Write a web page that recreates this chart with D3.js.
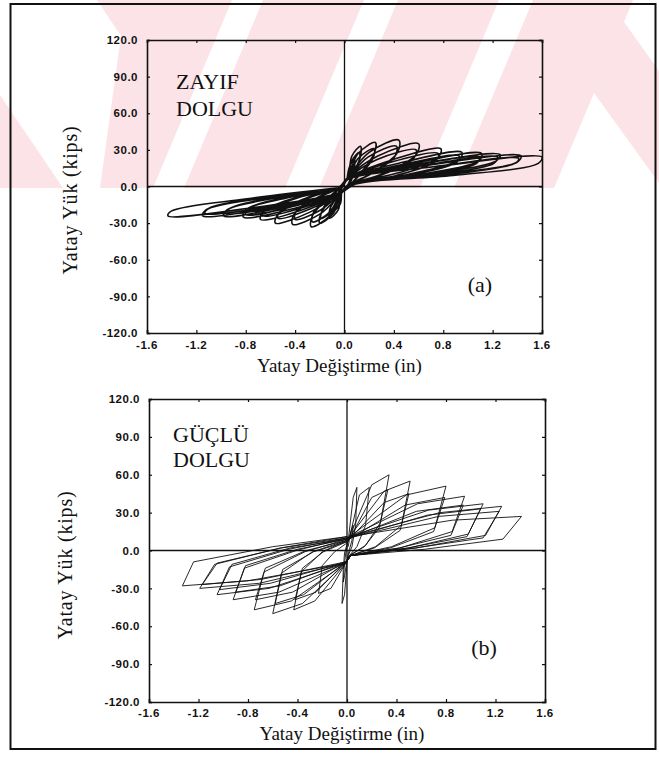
<!DOCTYPE html>
<html><head><meta charset="utf-8">
<script src="https://cdn.jsdelivr.net/npm/d3@7"></script>
<style>body{margin:0;background:#fff}</style>
</head><body>
<svg id="c" width="659" height="757" xmlns="http://www.w3.org/2000/svg"></svg>
<script>
// ---------- data ----------
const xTicks = [-1.6, -1.2, -0.8, -0.4, 0.0, 0.4, 0.8, 1.2, 1.6];
const xTickLabels = ["-1.6", "-1.2", "-0.8", "-0.4", "0.0", "0.4", "0.8", "1.2", "1.6"];
const yTicks = [-120, -90, -60, -30, 0, 30, 60, 90, 120];
const yTickLabels = ["-120.0", "-90.0", "-60.0", "-30.0", "0.0", "30.0", "60.0", "90.0", "120.0"];
const xTitle = "Yatay Değiştirme (in)";
const yTitle = "Yatay Yük (kips)";
const panelNames = ["ZAYIF|DOLGU", "GÜÇLÜ|DOLGU"];
const panelTags = ["(a)", "(b)"];

// (a) weak infill: hysteresis cycles, [displacement in, load kips]
const loopsA = [
  [[0.02,5],[0.04,16],[0.08,22],[0.08,16],[0.05,7],[0.03,2],[-0.02,-4],[-0.03,-13],[-0.06,-18],[-0.06,-13],[-0.04,-6],[-0.02,-1]],
  [[0.03,8],[0.06,25],[0.13,33],[0.13,25],[0.07,10],[0.04,2],[-0.03,-6],[-0.05,-19],[-0.12,-26],[-0.12,-19],[-0.06,-8],[-0.03,-1]],
  [[0.03,7],[0.06,21],[0.12,28],[0.12,21],[0.07,9],[0.04,2],[-0.03,-5],[-0.05,-16],[-0.11,-22],[-0.11,-16],[-0.06,-7],[-0.03,-1]],
  [[0.03,8],[0.11,27],[0.25,36],[0.24,27],[0.13,11],[0.05,2],[-0.03,-6],[-0.09,-22],[-0.20,-30],[-0.19,-22],[-0.10,-9],[-0.04,-1]],
  [[0.03,7],[0.11,23],[0.24,31],[0.23,23],[0.12,9],[0.05,2],[-0.03,-5],[-0.09,-19],[-0.19,-26],[-0.18,-19],[-0.10,-8],[-0.04,-1]],
  [[0.03,8],[0.20,28],[0.44,38],[0.43,28],[0.22,11],[0.05,2],[-0.03,-6],[-0.12,-24],[-0.27,-33],[-0.26,-24],[-0.14,-10],[-0.04,-1]],
  [[0.03,7],[0.19,24],[0.42,33],[0.41,25],[0.21,10],[0.05,2],[-0.03,-5],[-0.12,-21],[-0.26,-29],[-0.25,-21],[-0.13,-9],[-0.04,-1]],
  [[0.03,8],[0.27,25],[0.60,35],[0.58,26],[0.30,10],[0.06,2],[-0.03,-6],[-0.19,-22],[-0.42,-31],[-0.41,-23],[-0.21,-9],[-0.04,-1]],
  [[0.03,7],[0.26,22],[0.58,30],[0.56,23],[0.29,9],[0.06,2],[-0.03,-5],[-0.19,-19],[-0.40,-27],[-0.39,-20],[-0.20,-8],[-0.04,-1]],
  [[0.03,7],[0.39,22],[0.78,31],[0.76,24],[0.43,11],[0.06,2],[-0.03,-5],[-0.28,-21],[-0.56,-30],[-0.54,-23],[-0.31,-10],[-0.05,-1]],
  [[0.03,6],[0.38,20],[0.76,27],[0.74,21],[0.42,9],[0.06,2],[-0.03,-5],[-0.27,-18],[-0.54,-26],[-0.52,-20],[-0.30,-9],[-0.05,-1]],
  [[0.03,7],[0.48,20],[0.95,28],[0.93,22],[0.52,10],[0.07,2],[-0.03,-5],[-0.34,-19],[-0.68,-27],[-0.66,-21],[-0.37,-9],[-0.05,-1]],
  [[0.03,6],[0.47,18],[0.93,25],[0.91,20],[0.51,9],[0.07,2],[-0.03,-5],[-0.33,-17],[-0.66,-24],[-0.64,-19],[-0.36,-8],[-0.05,-1]],
  [[0.03,6],[0.56,19],[1.11,27],[1.09,21],[0.61,10],[0.08,2],[-0.03,-5],[-0.41,-18],[-0.82,-25],[-0.80,-19],[-0.45,-9],[-0.05,-1]],
  [[0.03,6],[0.55,17],[1.09,24],[1.07,19],[0.60,9],[0.08,2],[-0.03,-5],[-0.40,-16],[-0.80,-23],[-0.78,-18],[-0.44,-8],[-0.05,-1]],
  [[0.03,6],[0.63,19],[1.26,26],[1.23,21],[0.69,10],[0.08,2],[-0.03,-5],[-0.49,-17],[-0.98,-24],[-0.95,-19],[-0.54,-9],[-0.05,-1]],
  [[0.03,6],[0.62,17],[1.24,24],[1.21,19],[0.68,9],[0.08,2],[-0.03,-5],[-0.48,-16],[-0.96,-22],[-0.93,-18],[-0.53,-8],[-0.05,-1]],
  [[0.03,6],[0.72,18],[1.43,25],[1.40,20],[0.79,10],[0.09,2],[-0.03,-5],[-0.58,-17],[-1.15,-24],[-1.12,-19],[-0.63,-9],[-0.05,-1]],
  [[0.03,6],[0.71,16],[1.41,23],[1.38,19],[0.78,9],[0.09,2],[-0.03,-5],[-0.57,-16],[-1.13,-22],[-1.10,-18],[-0.62,-8],[-0.05,-1]],
  [[0.03,6],[0.80,17],[1.60,24],[1.57,19],[0.88,9],[0.09,2],[-0.03,-5],[-0.72,-17],[-1.43,-24],[-1.40,-20],[-0.79,-10],[-0.05,-1]]
];

// (b) strong infill
const loopsB = [
  [[0.01,3],[0.03,15],[0.05,20],[0.04,8],[0.02,1],[0.01,-3],[0.00,-8],[-0.02,-20],[-0.03,-25],[-0.02,-10],[-0.01,-2],[0.00,3]],
  [[0.01,8],[0.05,42],[0.08,50],[0.07,20],[0.04,3],[0.01,-4],[0.00,-10],[-0.02,-35],[-0.04,-42],[-0.03,-15],[-0.02,-2],[0.00,5]],
  [[0.02,10],[0.10,44],[0.18,50],[0.15,20],[0.08,3],[0.02,-4],[-0.01,-10],[-0.13,-30],[-0.23,-34],[-0.20,-12],[-0.10,-1],[0.00,6]],
  [[0.02,11],[0.20,52],[0.34,60],[0.27,22],[0.15,4],[0.02,-4],[-0.01,-10],[-0.26,-40],[-0.43,-47],[-0.37,-17],[-0.20,-1],[0.00,8]],
  [[0.02,9],[0.20,42],[0.33,48],[0.26,18],[0.14,3],[0.02,-4],[-0.01,-9],[-0.25,-33],[-0.42,-39],[-0.36,-14],[-0.19,-1],[0.00,7]],
  [[0.02,11],[0.30,47],[0.51,55],[0.44,20],[0.23,3],[0.03,-4],[-0.01,-10],[-0.36,-42],[-0.60,-50],[-0.53,-18],[-0.28,-1],[0.00,8]],
  [[0.02,9],[0.30,38],[0.50,45],[0.43,16],[0.22,2],[0.03,-4],[-0.01,-9],[-0.35,-35],[-0.58,-42],[-0.52,-15],[-0.27,-1],[0.00,7]],
  [[0.02,11],[0.48,44],[0.80,51],[0.71,18],[0.36,3],[0.03,-4],[-0.01,-10],[-0.45,-40],[-0.75,-47],[-0.67,-17],[-0.34,-1],[0.00,9]],
  [[0.02,9],[0.47,36],[0.79,42],[0.70,15],[0.35,2],[0.03,-4],[-0.01,-9],[-0.44,-33],[-0.74,-39],[-0.66,-14],[-0.33,0],[0.00,8]],
  [[0.02,11],[0.57,37],[0.95,43],[0.85,15],[0.43,2],[0.03,-4],[-0.01,-10],[-0.55,-33],[-0.92,-39],[-0.83,-14],[-0.41,0],[0.00,10]],
  [[0.02,10],[0.56,31],[0.94,36],[0.84,12],[0.42,2],[0.03,-4],[-0.01,-9],[-0.54,-28],[-0.90,-33],[-0.82,-12],[-0.40,1],[0.00,9]],
  [[0.02,11],[0.66,32],[1.10,37],[0.98,13],[0.50,2],[0.03,-4],[-0.01,-10],[-0.63,-30],[-1.05,-35],[-0.95,-13],[-0.47,1],[0.00,10]],
  [[0.02,10],[0.65,28],[1.08,33],[0.97,11],[0.49,2],[0.03,-4],[-0.01,-9],[-0.62,-26],[-1.03,-31],[-0.93,-11],[-0.46,2],[0.00,9]],
  [[0.02,11],[0.75,30],[1.25,35],[1.12,12],[0.56,2],[0.03,-4],[-0.01,-10],[-0.71,-26],[-1.19,-30],[-1.07,-11],[-0.54,2],[0.00,11]],
  [[0.02,10],[0.74,27],[1.23,31],[1.10,10],[0.55,2],[0.03,-4],[-0.01,-9],[-0.70,-23],[-1.17,-27],[-1.05,-10],[-0.53,2],[0.00,10]],
  [[0.02,11],[0.85,24],[1.41,27],[1.26,9],[0.63,1],[0.03,-4],[-0.01,-10],[-0.80,-24],[-1.33,-28],[-1.24,-9],[-0.60,3],[0.00,11]]
];

// ---------- drawing ----------
const svg = d3.select("#c");
svg.append("rect").attr("width",659).attr("height",757).attr("fill","#fff");

// faint background watermark (decoration of the scanned page)
const wm = svg.append("g");
wm.append("rect").attr("x",0).attr("y",0).attr("width",659).attr("height",188).attr("fill","#fbe3e7");
const wmWhite = [
  [[0,0],[97,0],[121,36],[100,188],[63,188],[0,95]],
  [[232,0],[263,0],[184,188],[153,188]],
  [[364,0],[398,0],[319,188],[285,188]],
  [[499,0],[533,0],[454,188],[420,188]],
  [[633,0],[659,0],[659,71],[624,22]],
  [[594,93],[659,183],[659,188],[554,188]]
];
wmWhite.forEach(p => wm.append("polygon").attr("points", p.map(d=>d.join(",")).join(" ")).attr("fill","#fff"));

// outer page frame
svg.append("rect").attr("x",10.5).attr("y",4).attr("width",645).attr("height",745)
  .attr("fill","none").attr("stroke","#111").attr("stroke-width",2);

const panels = [
  {loops: loopsA, xr:[147,542], yr:[333,40], sw:1.6, curve:d3.curveCatmullRom.alpha(0.5),
   name:panelNames[0], nameX:176, nameY:[89,116], tag:panelTags[0], tagX:480, tagY:292,
   xlabY:349, titleY:372, ytX:77, ytY:200},
  {loops: loopsB, xr:[149,545], yr:[702,399], sw:0.9, curve:d3.curveLinear,
   name:panelNames[1], nameX:173, nameY:[442,467], tag:panelTags[1], tagX:484, tagY:655,
   xlabY:717, titleY:740, ytX:72, ytY:565}
];

const tickFont = "'Liberation Sans', Arial, sans-serif";
const serif = "'Liberation Serif', 'Times New Roman', serif";

panels.forEach(p => {
  const x = d3.scaleLinear().domain([-1.6,1.6]).range(p.xr);
  const y = d3.scaleLinear().domain([-120,120]).range(p.yr);
  const g = svg.append("g");

  // zero lines
  g.append("line").attr("x1",x(0)).attr("x2",x(0)).attr("y1",y(-120)).attr("y2",y(120))
    .attr("stroke","#111").attr("stroke-width",1.3);
  g.append("line").attr("x1",x(-1.6)).attr("x2",x(1.6)).attr("y1",y(0)).attr("y2",y(0))
    .attr("stroke","#111").attr("stroke-width",1.3);

  // hysteresis curve
  const pts = p.loops.flat();
  const line = d3.line().x(d=>x(d[0])).y(d=>y(d[1])).curve(p.curve);
  g.append("path").attr("d", line(pts)).attr("fill","none").attr("stroke","#111")
    .attr("stroke-width",p.sw).attr("stroke-linejoin","round");

  // axes with small inward ticks on all sides
  const axB = d3.axisBottom(x).tickValues(xTicks).tickSize(-3).tickFormat("");
  const axT = d3.axisTop(x).tickValues(xTicks).tickSize(-3).tickFormat("");
  const axL = d3.axisLeft(y).tickValues(yTicks).tickSize(-3).tickFormat("");
  const axR = d3.axisRight(y).tickValues(yTicks).tickSize(-3).tickFormat("");
  [[axB,`translate(0,${y(-120)})`],[axT,`translate(0,${y(120)})`],
   [axL,`translate(${x(-1.6)},0)`],[axR,`translate(${x(1.6)},0)`]].forEach(([a,t])=>{
    const ag = g.append("g").attr("transform",t).call(a);
    ag.select(".domain").attr("stroke","#111").attr("stroke-width",1.6);
    ag.selectAll(".tick line").attr("stroke","#111").attr("stroke-width",1.2);
  });

  // tick labels
  g.selectAll(".xl").data(xTicks).enter().append("text")
    .attr("x",d=>x(d)).attr("y",p.xlabY).attr("text-anchor","middle")
    .attr("font-family",tickFont).attr("font-weight","bold").attr("font-size",11.5)
    .attr("letter-spacing",0.5).attr("fill","#111")
    .text((d,i)=>xTickLabels[i]);
  g.selectAll(".yl").data(yTicks).enter().append("text")
    .attr("x",x(-1.6)-9).attr("y",d=>y(d)).attr("dy","0.36em").attr("text-anchor","end")
    .attr("font-family",tickFont).attr("font-weight","bold").attr("font-size",11.5)
    .attr("letter-spacing",0.5).attr("fill","#111")
    .text((d,i)=>yTickLabels[i]);

  // titles
  g.append("text").attr("x",(p.xr[0]+p.xr[1])/2-5).attr("y",p.titleY).attr("text-anchor","middle")
    .attr("font-family",serif).attr("font-size",19).attr("fill","#111").text(xTitle);
  g.append("text").attr("transform",`translate(${p.ytX},${p.ytY}) rotate(-90)`)
    .attr("text-anchor","middle").attr("font-family",serif).attr("font-size",20)
    .attr("letter-spacing",0.8).attr("fill","#111").text(yTitle);

  // panel annotations
  p.name.split("|").forEach((s,i)=>{
    g.append("text").attr("x",p.nameX).attr("y",p.nameY[i]).attr("font-family",serif)
      .attr("font-size",22).attr("fill","#111").text(s);
  });
  g.append("text").attr("x",p.tagX).attr("y",p.tagY).attr("text-anchor","middle")
    .attr("font-family",serif).attr("font-size",22).attr("fill","#111").text(p.tag);
});
</script>
</body></html>
